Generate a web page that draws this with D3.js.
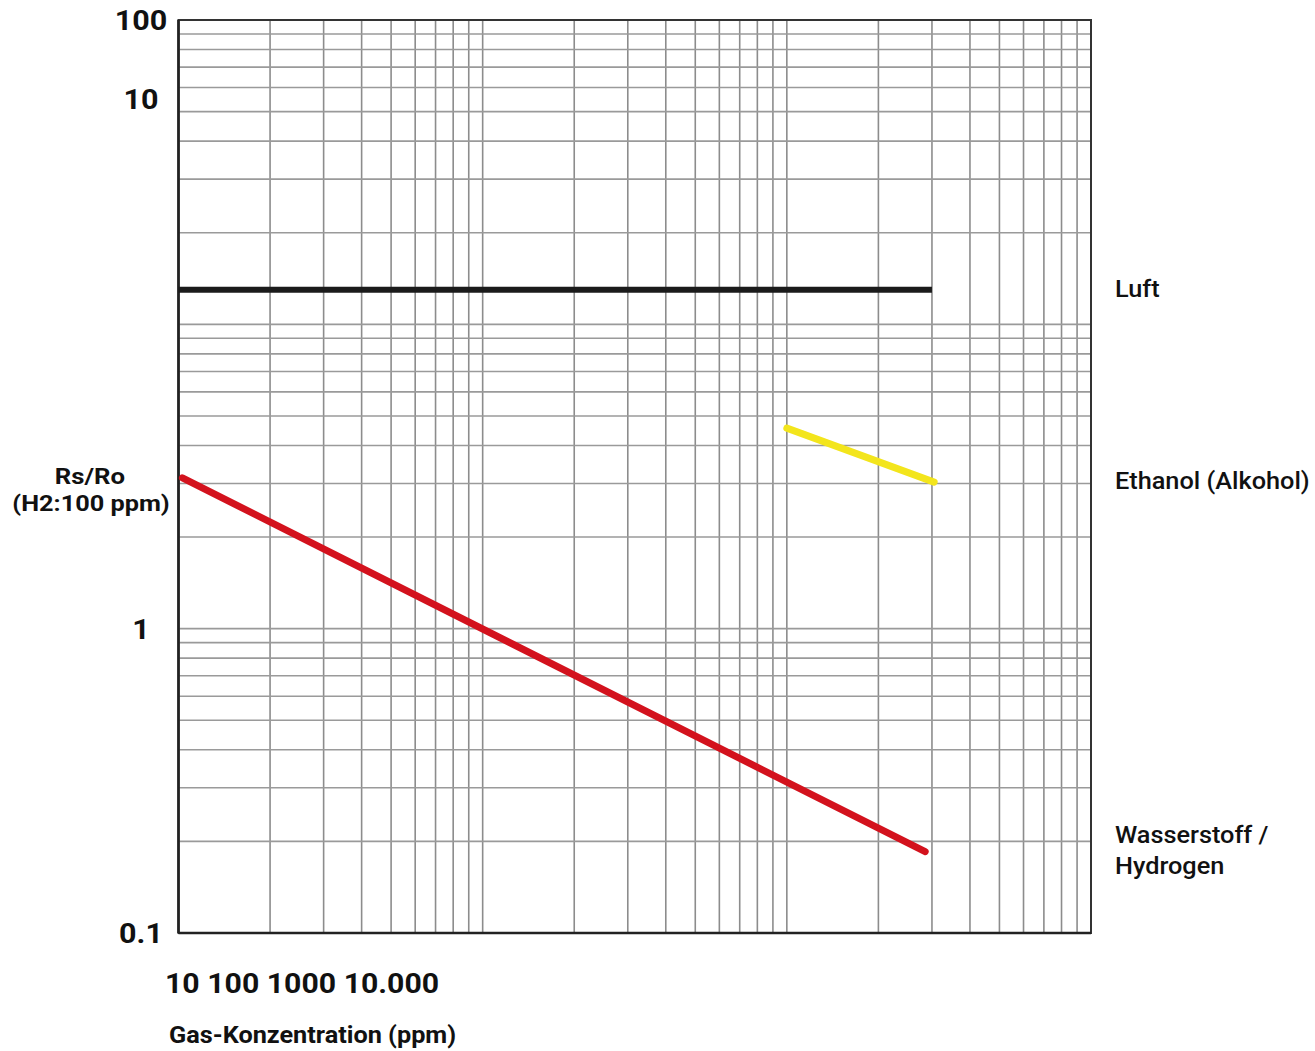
<!DOCTYPE html>
<html>
<head>
<meta charset="utf-8">
<script src="https://cdn.jsdelivr.net/npm/d3@7"></script>
<style>
  body { margin: 0; background: #fff; }
  text { font-family: Roboto, "Noto Sans", sans-serif; fill: #111; }
</style>
</head>
<body>
<div id="plot-container"></div>
<script>
// x: gas concentration (ppm), y: Rs/Ro
const xTickLabels = ["10", "100", "1000", "10.000"];
const yTickLabels = ["100", "10", "1", "0.1"];
// where each y label sits on the value axis (the "10" sits high in the original)
const yTickAt = [100, 55, 1, 0.1];

const seriesNames = ["Luft", "Ethanol (Alkohol)", "Wasserstoff / Hydrogen"];
const seriesColors = ["#1b1b1b", "#f3e51c", "#d3121d"];
const luftX = [10, 3000];
const luftY = [13, 13];
const ethanolX = [1000, 3050];
const ethanolY = [4.56, 3.03];
const hydrogenX = [10.3, 2850];
const hydrogenY = [3.13, 0.185];

const W = 1315, H = 1051;
const margin = { top: 20, right: 224, bottom: 118, left: 178.5 };
const width = W - margin.left - margin.right;
const height = H - margin.top - margin.bottom;

const svg = d3.select("#plot-container")
    .append("svg")
    .attr("width", W)
    .attr("height", H);

const g = svg.append("g")
    .attr("transform", "translate(" + margin.left + "," + margin.top + ")");

const xScale = d3.scaleLog().domain([10, 10000]).range([0, width]);
const yScale = d3.scaleLog().domain([0.1, 100]).range([height, 0]);

// the original lettering is a little wider than Roboto, so stretch it
function label(parent, x, y, lines, size, weight, sx, anchor) {
    const t = parent.append("text")
        .attr("transform", `translate(${x},${y}) scale(${sx},1)`)
        .attr("text-anchor", anchor || "start")
        .style("font-size", size + "px")
        .style("font-weight", weight);
    lines.forEach((p, i) => {
        t.append("tspan")
            .attr("x", 0)
            .attr("dy", i === 0 ? 0 : 31)
            .text(p);
    });
    return t;
}

// grid
g.append("g")
    .selectAll("line")
    .data(xScale.ticks())
    .enter()
    .append("line")
    .attr("x1", d => xScale(d))
    .attr("x2", d => xScale(d))
    .attr("y1", 0)
    .attr("y2", height)
    .attr("stroke", "#8c8c8c")
    .attr("stroke-width", 1.6);

g.append("g")
    .selectAll("line")
    .data(yScale.ticks())
    .enter()
    .append("line")
    .attr("x1", 0)
    .attr("x2", width)
    .attr("y1", d => yScale(d))
    .attr("y2", d => yScale(d))
    .attr("stroke", "#9a9a9a")
    .attr("stroke-width", 1.6);

// frame
g.append("rect")
    .attr("width", width)
    .attr("height", height)
    .attr("fill", "none")
    .attr("stroke", "#333")
    .attr("stroke-width", 2);
g.append("line")
    .attr("x1", 0).attr("x2", 0).attr("y1", 0).attr("y2", height)
    .attr("stroke", "#222").attr("stroke-width", 2.6);
g.append("line")
    .attr("x1", 0).attr("x2", width).attr("y1", height).attr("y2", height)
    .attr("stroke", "#222").attr("stroke-width", 2.6);

// curves
const series = [
    { name: seriesNames[0], color: seriesColors[0], xs: luftX, ys: luftY, w: 6 },
    { name: seriesNames[1], color: seriesColors[1], xs: ethanolX, ys: ethanolY, w: 7 },
    { name: seriesNames[2], color: seriesColors[2], xs: hydrogenX, ys: hydrogenY, w: 7 }
];

const line = d3.line()
    .x(d => xScale(d[0]))
    .y(d => yScale(d[1]));

g.selectAll(".curve")
    .data(series)
    .enter()
    .append("path")
    .attr("class", "curve")
    .attr("d", s => line(s.xs.map((x, i) => [x, s.ys[i]])))
    .attr("fill", "none")
    .attr("stroke", s => s.color)
    .attr("stroke-width", s => s.w)
    .attr("stroke-linecap", s => s.name === "Luft" ? "butt" : "round");

// right-hand labels, level with the end of each curve
series.forEach(s => {
    const parts = s.name === "Wasserstoff / Hydrogen" ? ["Wasserstoff /", "Hydrogen"] : [s.name];
    const yEnd = yScale(s.ys[s.ys.length - 1]);
    label(g, width + 24, yEnd - (parts.length - 1) * 15.5 + 7, parts, 23, 500, 1.1);
});

// y tick labels
yTickLabels.forEach((d, i) => {
    label(g, -37.5, yScale(yTickAt[i]) + 10, [d], 27, 700, 1.13, "middle");
});

// x tick labels, written in one row under the axis
label(svg, 165, 993, [xTickLabels.join(" ")], 27, 700, 1.12);

// axis titles
label(svg, 169, 1043, ["Gas-Konzentration (ppm)"], 23.4, 700, 1.08);
label(svg, 90, 484, ["Rs/Ro"], 22, 700, 1.17, "middle");
label(svg, 91, 511, ["(H2:100 ppm)"], 22, 700, 1.15, "middle");
</script>
</body>
</html>
